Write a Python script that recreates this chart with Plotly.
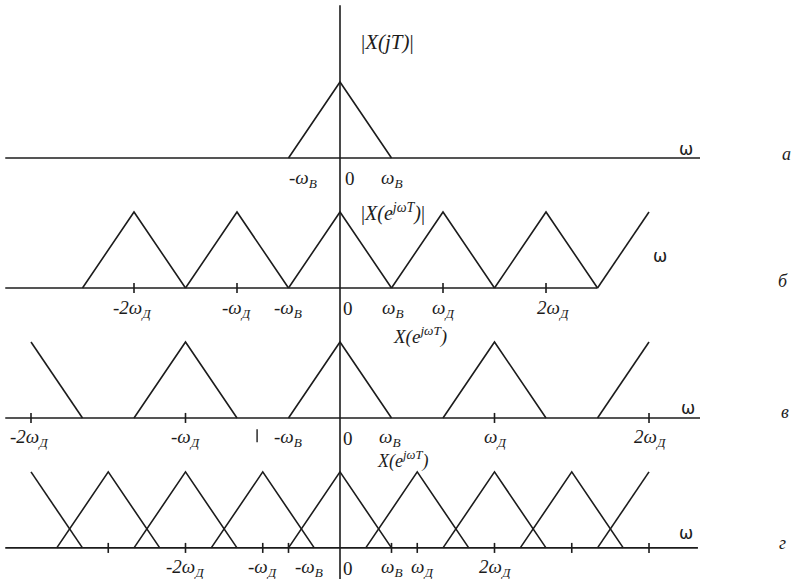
import plotly.graph_objects as go

# Frequency axis is measured in units of the band edge ω_B.
# Panel letters and the sampling frequency ω_Д / ω_B used in each panel.
PANEL_LETTERS = ["а", "б", "в", "г"]
SAMPLING_RATIO = [0.0, 2.0, 3.0, 1.5]
REPLICA_ORDERS = [
    [0],
    [-2, -1, 0, 1, 2, 3],
    [-2, -1, 0, 1, 2],
    [-4, -3, -2, -1, 0, 1, 2, 3, 4],
]
# Range of ω over which the spectrum copies are drawn
DRAWN_SPAN = [(-1.0, 1.0), (-5.0, 6.0), (-6.0, 6.0), (-6.0, 6.0)]
PEAK_LEVEL = 1.0
BAND_EDGE = 1.0

# Tick marks on each frequency axis (ω / ω_B)
TICKS = [
    [],
    [-4, -2, 2, 4],
    [-6, -3, 3, 6],
    [-4.5, -3, -1.5, -1, 1, 1.5, 3, 4.5, 6],
]

# Tick label texts for each panel
WB = "<i>ω<sub>В</sub></i>"
WD = "<i>ω<sub>Д</sub></i>"
TICK_TEXTS = [
    ["<i>-</i>" + WB, "0", WB],
    ["<i>-2</i>" + WD, "<i>-</i>" + WD, "<i>-</i>" + WB, "0", WB, WD, "<i>2</i>" + WD],
    ["<i>-2</i>" + WD, "<i>-</i>" + WD, "<i>-</i>" + WB, "0", WB, WD, "<i>2</i>" + WD],
    ["<i>-2</i>" + WD, "<i>-</i>" + WD, "<i>-</i>" + WB, "0", WB, WD, "<i>2</i>" + WD],
]
TITLES = [
    "|<i>X(jT)</i>|",
    "|<i>X(e<sup>jωT</sup>)</i>|",
    "<i>X(e<sup>jωT</sup>)</i>",
    "<i>X(e<sup>jωT</sup>)</i>",
]

# ---- layout constants -------------------------------------------------
W, H = 793, 579
X_RANGE = [-6.602, 8.796]
Y_RANGE = [-5.539, 2.079]
PANEL_STEP = 1.71
BASES = [-i * PANEL_STEP for i in range(4)]
AXIS_EXTENT = [(-6.5, 6.99), (-6.5, 5.0), (-6.5, 6.99), (-6.5, 6.95)]
TICK_HALF = 0.066
LABEL_DY = -0.27
LABEL_X = [
    [-0.72, 0.2, 1.01],
    [-4.02, -2.0, -1.01, 0.16, 1.03, 2.0, 4.14],
    [-6.02, -3.0, -1.01, 0.16, 0.97, 3.01, 6.02],
    [-3.0, -1.5, -0.6, 0.16, 1.01, 1.6, 3.01],
]
TITLE_POS = [(0.93, 1.52), (1.03, 0.99), (1.55, 1.08), (1.22, 1.16)]
TITLE_SIZE = [21, 20, 19, 18]
OMEGA_POS = [(6.72, 0.12), (6.21, 0.42), (6.76, 0.13), (6.72, 0.2)]
LETTER_POS = [(8.66, 0.05), (8.6, 0.09), (8.64, 0.08), (8.6, 0.07)]

INK = "#1c1c1c"
LW = 1.6
SERIF = "Liberation Serif, Times New Roman, serif"

fig = go.Figure()


def replica_points(centre, lo, hi):
    """Vertices of one triangular spectrum copy, clipped to [lo, hi]."""
    left, right = max(centre - BAND_EDGE, lo), min(centre + BAND_EDGE, hi)
    if right <= left:
        return [], []
    knots = sorted({left, right} | {k for k in (centre - BAND_EDGE, centre, centre + BAND_EDGE) if left <= k <= right})
    ys = [PEAK_LEVEL * max(0.0, 1 - abs(k - centre) / BAND_EDGE) for k in knots]
    return knots, ys


for i in range(4):
    base = BASES[i]
    # frequency axis line
    x0, x1 = AXIS_EXTENT[i]
    fig.add_trace(go.Scatter(x=[x0, x1], y=[base, base], mode="lines",
                             line=dict(color=INK, width=LW), hoverinfo="skip"))
    # spectrum copies
    xs, ys = [], []
    lo, hi = DRAWN_SPAN[i]
    for k in REPLICA_ORDERS[i]:
        px, pyv = replica_points(k * SAMPLING_RATIO[i], lo, hi)
        xs += px + [None]
        ys += [base + v for v in pyv] + [None]
    fig.add_trace(go.Scatter(x=xs, y=ys, mode="lines",
                             line=dict(color=INK, width=LW), hoverinfo="skip"))
    # tick marks
    tx, ty = [], []
    for t in TICKS[i]:
        tx += [t, t, None]
        ty += [base - TICK_HALF, base + TICK_HALF, None]
    if tx:
        fig.add_trace(go.Scatter(x=tx, y=ty, mode="lines",
                                 line=dict(color=INK, width=LW), hoverinfo="skip"))
    # tick labels
    for txt, lx in zip(TICK_TEXTS[i], LABEL_X[i]):
        fig.add_annotation(x=lx, y=base + LABEL_DY, text=txt, showarrow=False,
                           xanchor="center", yanchor="middle",
                           font=dict(family=SERIF, size=19, color=INK))
    # spectrum name
    tx_, ty_ = TITLE_POS[i]
    fig.add_annotation(x=tx_, y=base + ty_, text=TITLES[i], showarrow=False,
                       xanchor="center", yanchor="middle",
                       font=dict(family=SERIF, size=TITLE_SIZE[i], color=INK))
    # ω axis name
    ox, oy = OMEGA_POS[i]
    fig.add_annotation(x=ox, y=base + oy, text="ω", showarrow=False,
                       xanchor="center", yanchor="middle",
                       font=dict(family="DejaVu Sans, sans-serif", size=17, color=INK))
    # panel letter
    lx_, ly_ = LETTER_POS[i]
    fig.add_annotation(x=lx_, y=base + ly_, text="<i>" + PANEL_LETTERS[i] + "</i>",
                       showarrow=False, xanchor="center", yanchor="middle",
                       font=dict(family=SERIF, size=18, color=INK))

# short stray stroke under the third axis, left of the -ω_B label
fig.add_trace(go.Scatter(x=[-1.61, -1.61], y=[BASES[2] - 0.15, BASES[2] - 0.32],
                         mode="lines", line=dict(color=INK, width=1.4),
                         hoverinfo="skip"))

# common amplitude axis through ω = 0
fig.add_trace(go.Scatter(x=[0, 0], y=[2.01, Y_RANGE[0] - 0.2], mode="lines",
                         line=dict(color=INK, width=LW), hoverinfo="skip"))

fig.update_layout(
    width=W, height=H,
    margin=dict(l=0, r=0, t=0, b=0),
    paper_bgcolor="white", plot_bgcolor="white",
    showlegend=False,
    xaxis=dict(range=X_RANGE, visible=False, fixedrange=True),
    yaxis=dict(range=Y_RANGE, visible=False, fixedrange=True),
)

fig.write_html("out.html")
